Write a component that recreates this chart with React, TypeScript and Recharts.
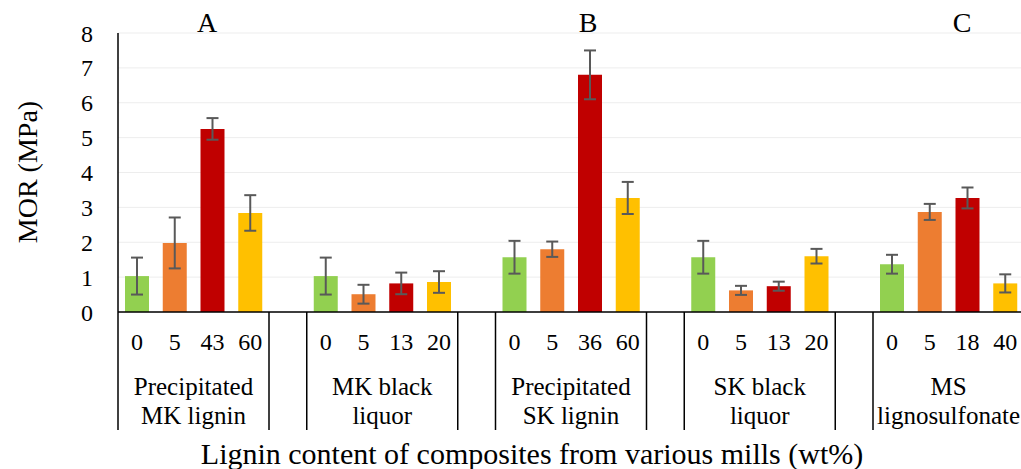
import React from "react";
import { BarChart, Bar, Cell, XAxis, YAxis, CartesianGrid, ErrorBar } from "recharts";

// lignin sources (two-line names under the axis)
const sources = [
  ["Precipitated", "MK lignin"],
  ["MK black", "liquor"],
  ["Precipitated", "SK lignin"],
  ["SK black", "liquor"],
  ["MS", "lignosulfonate"],
];

// lignin content of each composite, wt%
const lignin = [
  ["0", "5", "43", "60"],
  ["0", "5", "13", "20"],
  ["0", "5", "36", "60"],
  ["0", "5", "13", "20"],
  ["0", "5", "18", "40"],
];

// modulus of rupture, MPa
const mor = [
  [1.03, 1.98, 5.25, 2.84],
  [1.03, 0.51, 0.82, 0.86],
  [1.57, 1.8, 6.8, 3.27],
  [1.57, 0.62, 0.74, 1.6],
  [1.37, 2.87, 3.27, 0.82],
];

// standard deviation
const morSd = [
  [0.53, 0.73, 0.31, 0.51],
  [0.53, 0.27, 0.31, 0.31],
  [0.47, 0.22, 0.7, 0.46],
  [0.47, 0.13, 0.13, 0.21],
  [0.27, 0.23, 0.3, 0.26],
];

const levelColors = ["#92D050", "#ED7D31", "#C00000", "#FFC000"];
const yTicks = [0, 1, 2, 3, 4, 5, 6, 7, 8];

// panel letters above the plot
const panels = [
  { letter: "A", left: 207 },
  { letter: "B", left: 588 },
  { letter: "C", left: 962 },
];

type Row = {
  key: string;
  level: string;
  mor: number | null;
  sd: number | null;
  color: string;
  group: number;
  pos: number;
};

// one blank category between groups
const rows: Row[] = [];
sources.forEach((_, g) => {
  lignin[g].forEach((level, i) => {
    rows.push({ key: `${g}-${i}`, level, mor: mor[g][i], sd: morSd[g][i], color: levelColors[i], group: g, pos: i });
  });
  if (g < sources.length - 1) {
    rows.push({ key: `gap-${g}`, level: "", mor: null, sd: null, color: "none", group: g, pos: -1 });
  }
});

const FONT = "Liberation Serif, DejaVu Serif, serif";
const CHART_W = 1024;
const CHART_H = 469;
const Y_W = 118;
const SLOT = (CHART_W - Y_W) / rows.length;

function CategoryTick(props: any) {
  const { x, y, payload } = props;
  const row = rows[payload.index];
  if (!row) return null;
  const half = payload.offset > 0 ? payload.offset : SLOT / 2;
  const lineBottom = y + 118;
  const textStyle = { fontFamily: FONT };
  return (
    <g>
      {row.pos === 0 && (
        <>
          <line x1={x - half} y1={y} x2={x - half} y2={lineBottom} stroke="#000" strokeWidth={1.5} />
          <text x={x + half * 3} y={y + 74} textAnchor="middle" dominantBaseline="central" fontSize={25} style={textStyle} fill="#000">
            {sources[row.group][0]}
          </text>
          <text x={x + half * 3} y={y + 103} textAnchor="middle" dominantBaseline="central" fontSize={25} style={textStyle} fill="#000">
            {sources[row.group][1]}
          </text>
        </>
      )}
      {row.pos === 3 && (
        <line x1={x + half} y1={y} x2={x + half} y2={lineBottom} stroke="#000" strokeWidth={1.5} />
      )}
      {row.pos >= 0 && (
        <text x={x} y={y + 30} textAnchor="middle" dominantBaseline="central" fontSize={24} style={textStyle} fill="#000">
          {row.level}
        </text>
      )}
    </g>
  );
}

export default function App() {
  return (
    <div
      style={{
        position: "absolute",
        left: 0,
        top: 0,
        width: 1021,
        height: 469,
        overflow: "hidden",
        background: "#fff",
        fontFamily: FONT,
      }}
    >
      <BarChart width={CHART_W} height={CHART_H} data={rows} margin={{ top: 33, right: 0, bottom: 0, left: 0 }}>
        <CartesianGrid vertical={false} stroke="#EDEDED" />
        <XAxis
          dataKey="key"
          height={157}
          interval={0}
          tickLine={false}
          tickSize={0}
          tickMargin={0}
          axisLine={{ stroke: "#000", strokeWidth: 1.5 }}
          tick={(p: any) => <CategoryTick {...p} />}
        />
        <YAxis
          width={Y_W}
          domain={[0, 8]}
          ticks={yTicks}
          interval={0}
          tickLine={false}
          tickSize={0}
          tickMargin={25}
          axisLine={{ stroke: "#000", strokeWidth: 1.5 }}
          tick={{ fontSize: 24, fill: "#000", style: { fontFamily: FONT } }}
        />
        <Bar dataKey="mor" barSize={24} isAnimationActive={false}>
          {rows.map((r) => (
            <Cell key={r.key} fill={r.color} />
          ))}
          <ErrorBar dataKey="sd" width={6} stroke="#595959" strokeWidth={2} direction="y" />
        </Bar>
      </BarChart>

      {panels.map((p) => (
        <div
          key={p.letter}
          style={{
            position: "absolute",
            left: p.left,
            top: 23,
            transform: "translate(-50%, -50%)",
            fontSize: 28,
            lineHeight: 1,
            color: "#000",
          }}
        >
          {p.letter}
        </div>
      ))}

      <div
        style={{
          position: "absolute",
          left: 28,
          top: 172,
          transform: "translate(-50%, -50%) rotate(-90deg)",
          fontSize: 28,
          lineHeight: 1,
          whiteSpace: "nowrap",
          color: "#000",
        }}
      >
        MOR (MPa)
      </div>

      <div
        style={{
          position: "absolute",
          left: 532,
          top: 454,
          transform: "translate(-50%, -50%)",
          fontSize: 30,
          lineHeight: 1,
          whiteSpace: "nowrap",
          color: "#000",
        }}
      >
        Lignin content of composites from various mills (wt%)
      </div>
    </div>
  );
}
